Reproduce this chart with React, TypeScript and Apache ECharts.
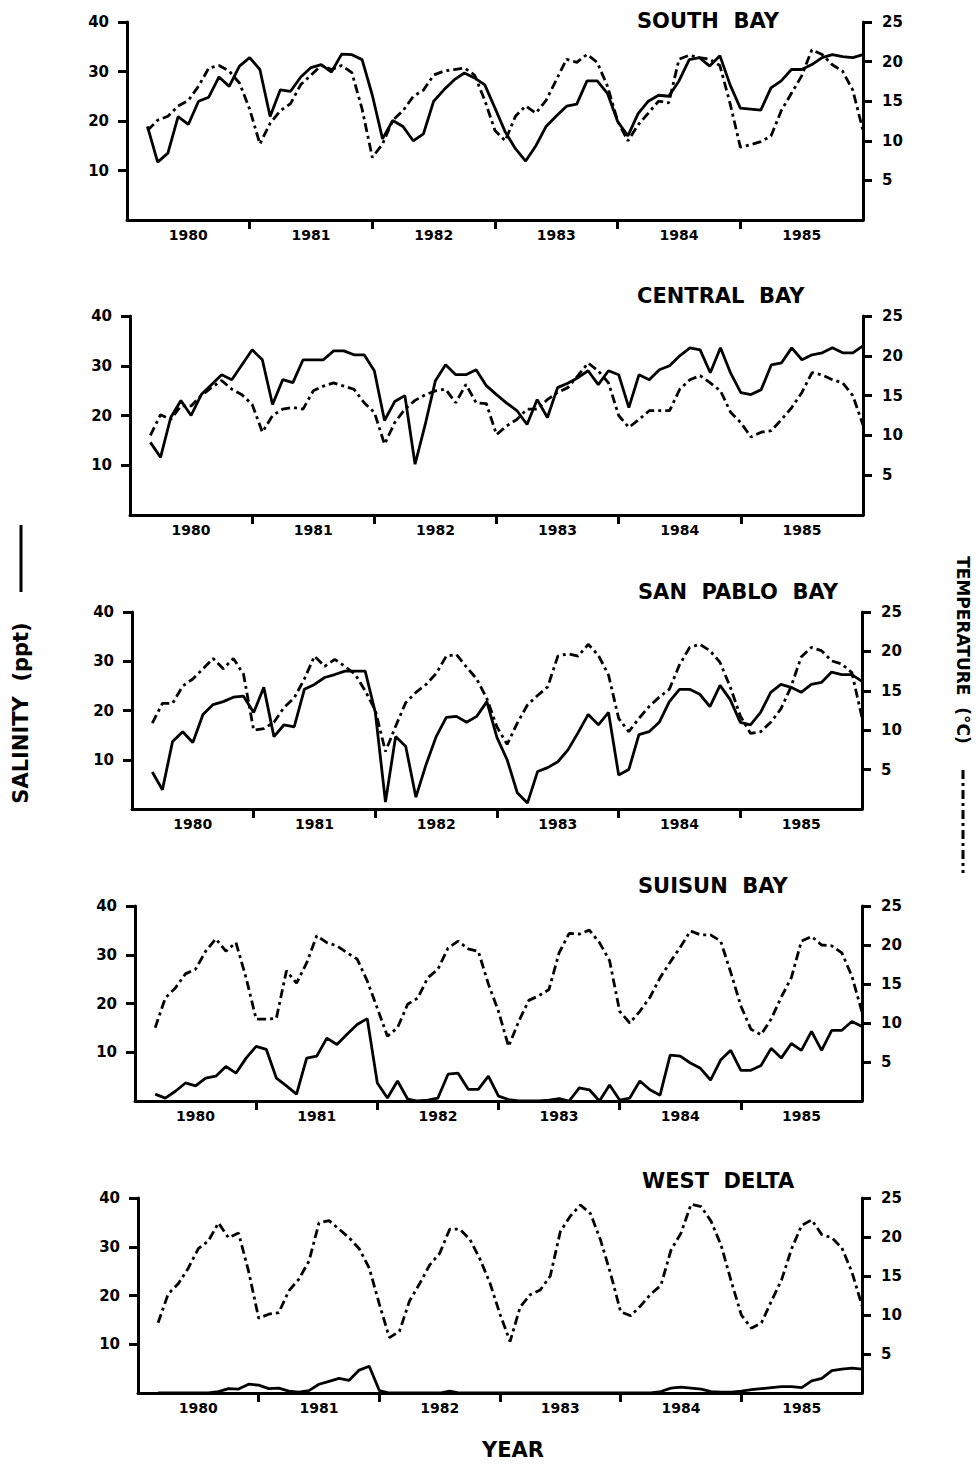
import React, { useEffect, useRef } from "react";
import * as echarts from "echarts";

// ---------- DATA ----------
const years = ["1980", "1981", "1982", "1983", "1984", "1985"];
const stationNames = ["SOUTH  BAY", "CENTRAL  BAY", "SAN  PABLO  BAY", "SUISUN  BAY", "WEST  DELTA"];
// first sample at month index 2 (months counted from Jan 1980), one sample per month
const FIRST_MONTH = 2;
const leftTicks = [10, 20, 30, 40];
const rightTicks = [5, 10, 15, 20, 25];
const yearTicks = [12, 24, 36, 48, 60];

const southSal = [18.9, 11.7, 13.5, 20.9, 19.3, 24, 24.8, 28.9, 27, 31.1,
  32.8, 30.4, 20.9, 26.3, 26, 28.9, 30.8, 31.4, 29.9, 33.5,
  33.4, 32.4, 25.2, 16.4, 20.1, 18.9, 16, 17.4, 24, 26.3,
  28.3, 29.7, 28.7, 27.3, 22.6, 17.8, 14.4, 11.9, 15, 18.9,
  21, 23, 23.4, 28.1, 28.1, 25.6, 19.9, 17, 21.5, 24,
  25.2, 25, 28.1, 32.4, 32.8, 31.1, 33.2, 27.3, 22.6, 22.4,
  22.2, 26.7, 28.1, 30.4, 30.4, 31.4, 32.8, 33.4, 33, 32.8, 33.4];
const southTemp = [11.3, 12.6, 13.1, 14.4, 15.1, 16.9, 19.2, 19.5, 18.8, 17.3,
  14, 9.6, 12.2, 13.8, 14.7, 17.1, 18.3, 19.5, 19, 19.5,
  18.6, 14, 7.9, 9.6, 12.6, 13.8, 15.6, 16.4, 18.3, 18.8,
  19, 19.2, 18.3, 15.1, 11.3, 10, 13.1, 14.4, 13.5, 15.1,
  17.7, 20.3, 19.9, 20.9, 19.9, 16.9, 12.5, 10, 12, 13.5,
  15, 14.8, 20.3, 20.8, 20.5, 20.3, 19.5, 14.7, 9.2, 9.5,
  9.9, 10.6, 13.8, 16, 18.2, 21.5, 20.9, 19.6, 18.8, 16.4, 11.3];

const centralSal = [14.6, 11.6, 19.6, 23, 20, 24.2, 26.2, 28.2, 27.2, 30.2,
  33.2, 31.2, 22.2, 27.2, 26.6, 31.2, 31.2, 31.2, 33, 33,
  32.2, 32.2, 29, 19, 22.8, 24, 10.2, 18.2, 27, 30.2,
  28.2, 28.2, 29.2, 26, 24.2, 22.5, 21, 18.2, 23.2, 19.6,
  25.6, 26.5, 27.6, 29, 26.2, 29, 28.2, 21.6, 28.2, 27.2,
  29.2, 30, 32, 33.6, 33.2, 28.6, 33.6, 28.5, 24.6, 24.2,
  25.2, 30.2, 30.6, 33.6, 31.2, 32.2, 32.6, 33.6, 32.6, 32.6, 34];
const centralTemp = [10, 12.6, 12, 13.7, 13.7, 15, 16, 16.9, 15.8, 15.1,
  13.9, 10.4, 12.5, 13.3, 13.5, 13.3, 15.6, 16.2, 16.6, 16.2,
  15.8, 14.1, 12.9, 8.9, 11.6, 13.3, 14.4, 15.1, 15.6, 15.8,
  14.1, 16.4, 14.1, 14, 10.1, 11.2, 12, 13.3, 13.3, 14.5,
  15.4, 16, 17.5, 19.1, 18.1, 16.6, 12.5, 11, 12, 13.1,
  13.1, 13.1, 15.8, 17, 17.5, 16.6, 15.6, 12.9, 11.6, 9.8,
  10.4, 10.6, 12, 13.5, 15.4, 17.9, 17.6, 17, 16.6, 15, 11.3];

const sanPabloSal = [7.5, 3.9, 13.7, 15.7, 13.5, 19.2, 21.2, 21.8, 22.7, 22.9,
  19.6, 24.7, 14.7, 17.1, 16.7, 24.3, 25.3, 26.7, 27.3, 28,
  28, 28, 19.6, 1.4, 14.7, 12.7, 2.4, 9, 14.7, 18.6,
  18.8, 17.6, 18.8, 21.8, 14.5, 10, 3.3, 1.2, 7.6, 8.4,
  9.6, 12, 15.5, 19.2, 17.1, 19.6, 6.9, 8, 15.1, 15.7,
  17.6, 21.8, 24.3, 24.3, 23.3, 20.8, 25.1, 22.2, 17.6, 17.1,
  19.6, 23.7, 25.3, 24.7, 23.7, 25.3, 25.7, 27.8, 27.3, 27.3, 25.9];
const sanPabloTemp = [10.9, 13.4, 13.4, 15.6, 16.5, 17.8, 19.1, 17.8, 19.1, 17.1,
  10, 10.2, 11, 12.9, 14.1, 16.5, 19.4, 18.1, 19, 18.1,
  17.1, 15, 12.5, 7.3, 10.5, 13.5, 14.8, 15.8, 17.2, 19.4,
  19.6, 18, 16.5, 14, 10.4, 8.2, 10.9, 13.2, 14.4, 15.5,
  19.4, 19.7, 19.4, 20.9, 19.5, 17, 11.5, 9.8, 11.5, 13,
  14.2, 15.2, 18.3, 20.5, 20.9, 20.1, 18.6, 15.5, 11.8, 9.6,
  9.8, 11, 12.7, 15.5, 19.3, 20.5, 20.1, 18.8, 18.4, 17.3, 11.6];

const suisunSal = [1.4, 0.6, 2, 3.7, 3.1, 4.7, 5.1, 7.1, 5.7, 8.8,
  11.2, 10.6, 4.7, 3.1, 1.4, 8.8, 9.2, 12.9, 11.6, 13.7,
  15.7, 16.9, 3.7, 0.6, 4.1, 0.4, 0, 0.2, 0.6, 5.5,
  5.7, 2.4, 2.4, 5.1, 1, 0.3, 0, 0, 0, 0.2,
  0.5, 0, 2.7, 2.3, 0, 3.3, 0.2, 0.6, 4.1, 2.3,
  1.2, 9.4, 9.2, 7.8, 6.7, 4.3, 8.4, 10.4, 6.3, 6.3,
  7.3, 10.8, 8.8, 11.8, 10.4, 14.3, 10.4, 14.5, 14.5, 16.3, 15.3];
const suisunTemp = [9.4, 13.2, 14.5, 16.3, 16.9, 19.2, 20.8, 19.2, 20.3, 15.8,
  10.5, 10.5, 10.6, 16.7, 15.1, 17.7, 21.2, 20.3, 19.9, 19,
  18.2, 15.4, 11.9, 8.3, 9.4, 12.4, 13.2, 15.8, 16.9, 19.6,
  20.5, 19.5, 19.2, 15, 11.5, 7, 10.2, 12.9, 13.5, 14.3,
  19, 21.5, 21.4, 21.9, 20.3, 18, 11.5, 10, 11.5, 13.3,
  15.8, 17.8, 19.7, 21.8, 21.3, 21.3, 20.5, 16.5, 12.2, 9.2,
  8.5, 10.5, 13.3, 15.8, 20.5, 21.1, 20, 19.9, 19, 16, 11.4];

const westDeltaSal = [0, 0, 0, 0, 0, 0, 0.3, 0.9, 0.8, 1.8,
  1.6, 0.9, 1, 0.4, 0.2, 0.5, 1.8, 2.4, 3, 2.6,
  4.7, 5.5, 0.5, 0, 0, 0, 0, 0, 0, 0.4,
  0, 0, 0, 0, 0, 0, 0, 0, 0, 0,
  0, 0, 0, 0, 0, 0, 0, 0, 0, 0,
  0.3, 1, 1.2, 1, 0.8, 0.3, 0.2, 0.2, 0.4, 0.7,
  0.9, 1.1, 1.3, 1.3, 1.1, 2.5, 3, 4.6, 4.9, 5.1, 4.9];
const westDeltaTemp = [9, 12.7, 14, 16, 18.5, 19.5, 21.8, 19.9, 20.5, 15.6,
  9.6, 10.1, 10.3, 13.1, 14.6, 16.9, 21.8, 22.1, 21, 19.9,
  18.5, 16, 11.4, 7.1, 7.9, 11.8, 14, 16.4, 17.9, 21,
  21, 19.7, 17.2, 14.1, 10.1, 6.6, 11, 12.6, 13.2, 15,
  20.7, 22.7, 24.1, 23, 19.6, 15.3, 10.4, 9.9, 11.2, 12.7,
  13.8, 18.3, 20.5, 24.2, 23.9, 22, 18.9, 14.3, 10, 8.3,
  9, 11.8, 14.5, 18.5, 21.5, 22.2, 20.3, 19.9, 18.6, 15.5, 11.2];

const salinity = [southSal, centralSal, sanPabloSal, suisunSal, westDeltaSal];
const temperature = [southTemp, centralTemp, sanPabloTemp, suisunTemp, westDeltaTemp];

// ---------- LAYOUT ----------
const gridBoxes = [
  { left: 127, top: 22, width: 736, height: 198 },
  { left: 130, top: 316, width: 733, height: 199 },
  { left: 132, top: 612, width: 730, height: 197 },
  { left: 135, top: 906, width: 727, height: 195 },
  { left: 138, top: 1198, width: 724, height: 195 },
];
const titlePos = [
  { x: 637, y: 21 },
  { x: 637, y: 296 },
  { x: 638, y: 592 },
  { x: 638, y: 886 },
  { x: 642, y: 1181 },
];

const FONT = "'DejaVu Sans', 'Liberation Sans', sans-serif";
const INK = "#000";

function buildOption() {
  const grid: any[] = [];
  const xAxis: any[] = [];
  const yAxis: any[] = [];
  const series: any[] = [];
  const graphic: any[] = [];

  gridBoxes.forEach((g, i) => {
    grid.push({ ...g, containLabel: false });
    // value axis for data (months since Jan 1980)
    xAxis.push({
      type: "value",
      gridIndex: i,
      min: 0,
      max: 72,
      interval: 12,
      axisLine: { show: true, onZero: false, lineStyle: { color: INK, width: 3 } },
      axisTick: { show: true, length: 9, customValues: yearTicks, lineStyle: { color: INK, width: 3 } },
      axisLabel: { show: false },
      splitLine: { show: false },
    });
    // category axis for centred year labels
    xAxis.push({
      type: "category",
      gridIndex: i,
      position: "bottom",
      data: years,
      boundaryGap: true,
      axisLine: { show: false },
      axisTick: { show: false },
      axisLabel: { color: INK, fontSize: 14, fontWeight: "bold", fontFamily: FONT, margin: 8 },
      splitLine: { show: false },
    });
    yAxis.push({
      type: "value",
      gridIndex: i,
      position: "left",
      min: 0,
      max: 40,
      interval: 10,
      axisLine: { show: true, lineStyle: { color: INK, width: 3 } },
      axisTick: { show: true, length: 9, customValues: leftTicks, lineStyle: { color: INK, width: 3 } },
      axisLabel: {
        color: INK, fontSize: 15, fontWeight: "bold", fontFamily: FONT, margin: 18,
        customValues: leftTicks,
      },
      splitLine: { show: false },
    });
    yAxis.push({
      type: "value",
      gridIndex: i,
      position: "right",
      min: 0,
      max: 25,
      interval: 5,
      axisLine: { show: true, lineStyle: { color: INK, width: 3 } },
      axisTick: { show: true, length: 9, customValues: rightTicks, lineStyle: { color: INK, width: 3 } },
      axisLabel: {
        color: INK, fontSize: 15, fontWeight: "bold", fontFamily: FONT, margin: 19,
        customValues: rightTicks,
      },
      splitLine: { show: false },
    });
    series.push({
      type: "line",
      name: "salinity-" + i,
      xAxisIndex: 2 * i,
      yAxisIndex: 2 * i,
      data: salinity[i].map((v, k) => [FIRST_MONTH + k, v]),
      symbol: "none",
      lineStyle: { color: INK, width: 2.8 },
      silent: true,
    });
    series.push({
      type: "line",
      name: "temperature-" + i,
      xAxisIndex: 2 * i,
      yAxisIndex: 2 * i + 1,
      data: temperature[i].map((v, k) => [FIRST_MONTH + k, v]),
      symbol: "none",
      lineStyle: { color: INK, width: 2.8, type: [9, 4, 3, 4] },
      silent: true,
    });
    graphic.push({
      type: "text",
      x: titlePos[i].x,
      y: titlePos[i].y,
      style: {
        text: stationNames[i],
        fill: INK,
        fontSize: 21,
        fontWeight: "bold",
        fontFamily: FONT,
        align: "left",
        verticalAlign: "middle",
      },
    });
  });

  // axis titles
  graphic.push({
    type: "text",
    x: 21,
    y: 713,
    rotation: Math.PI / 2,
    style: {
      text: "SALINITY  (ppt)",
      fill: INK,
      fontSize: 21,
      fontWeight: "bold",
      fontFamily: FONT,
      align: "center",
      verticalAlign: "middle",
    },
  });
  graphic.push({
    type: "line",
    shape: { x1: 21, y1: 525, x2: 21, y2: 592 },
    style: { stroke: INK, lineWidth: 3 },
  });
  graphic.push({
    type: "text",
    x: 963,
    y: 650,
    rotation: -Math.PI / 2,
    style: {
      text: "TEMPERATURE  (°C)",
      fill: INK,
      fontSize: 17,
      fontWeight: "bold",
      fontFamily: FONT,
      align: "center",
      verticalAlign: "middle",
    },
  });
  graphic.push({
    type: "line",
    shape: { x1: 963, y1: 770, x2: 963, y2: 873 },
    style: { stroke: INK, lineWidth: 3, lineDash: [9, 4, 3, 4] },
  });
  graphic.push({
    type: "text",
    x: 513,
    y: 1450,
    style: {
      text: "YEAR",
      fill: INK,
      fontSize: 21,
      fontWeight: "bold",
      fontFamily: FONT,
      align: "center",
      verticalAlign: "middle",
    },
  });

  return {
    animation: false,
    backgroundColor: "#fff",
    grid,
    xAxis,
    yAxis,
    series,
    graphic,
  };
}

export default function App() {
  const ref = useRef<HTMLDivElement | null>(null);
  useEffect(() => {
    if (!ref.current) return;
    const chart = echarts.init(ref.current, null, { renderer: "svg" });
    chart.setOption(buildOption());
    return () => chart.dispose();
  }, []);
  return (
    <div
      ref={ref}
      style={{ position: "absolute", left: 0, top: 0, width: 980, height: 1469, background: "#fff" }}
    />
  );
}
